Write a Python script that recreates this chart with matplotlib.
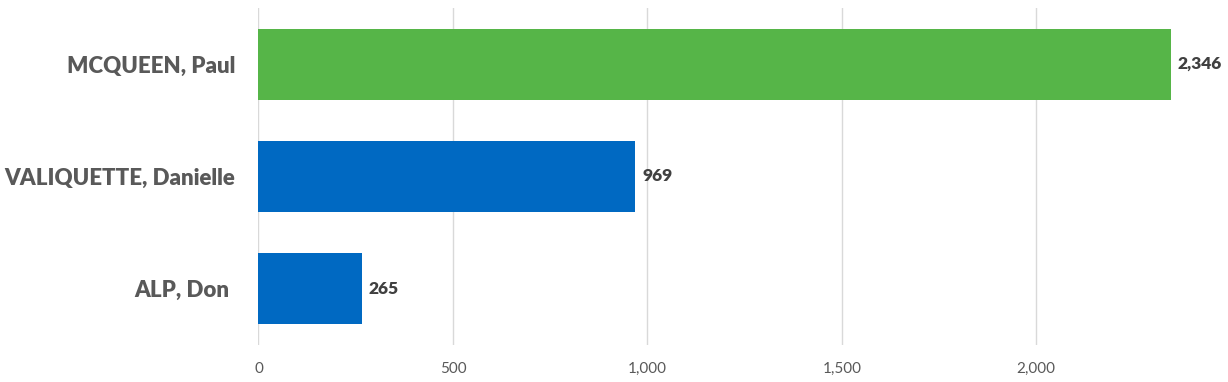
import matplotlib.pyplot as plt
from matplotlib.ticker import FuncFormatter

names = ['ALP, Don ', 'VALIQUETTE, Danielle', 'MCQUEEN, Paul']
votes = [265, 969, 2346]
colors = ['#0069C2', '#0069C2', '#56B548']
ticks = [0, 500, 1000, 1500, 2000]

plt.rcParams['font.family'] = ['Lato', 'DejaVu Sans']

fig = plt.figure(figsize=(12.28, 3.82), dpi=100)
ax = fig.add_axes([0.2105, 0.097, 0.7895, 0.882])

y = range(len(names))
bars = ax.barh(y, votes, height=0.63, color=colors, zorder=3)

for bar, v in zip(bars, votes):
    ax.annotate(f'{v:,}', (bar.get_width(), bar.get_y() + bar.get_height() / 2),
                xytext=(7, 0), textcoords='offset pixels', va='center', ha='left',
                fontsize=12.5, fontweight='heavy', color='#404040')

ax.set_xlim(0, 2493)
ax.set_ylim(-0.5, 2.5)
ax.set_xticks(ticks)
ax.xaxis.set_major_formatter(FuncFormatter(lambda v, p: f'{int(v):,}'))
ax.set_yticks(list(y))
ax.set_yticklabels(names, fontsize=16, fontweight='heavy', color='#595959')
ax.tick_params(axis='y', length=0, pad=17)
ax.tick_params(axis='x', length=0, pad=12, labelsize=11, labelcolor='#595959')
ax.grid(axis='x', color='#D9D9D9', linewidth=1, zorder=0)
for s in ax.spines.values():
    s.set_visible(False)

fig.savefig('out.png', dpi=100)
